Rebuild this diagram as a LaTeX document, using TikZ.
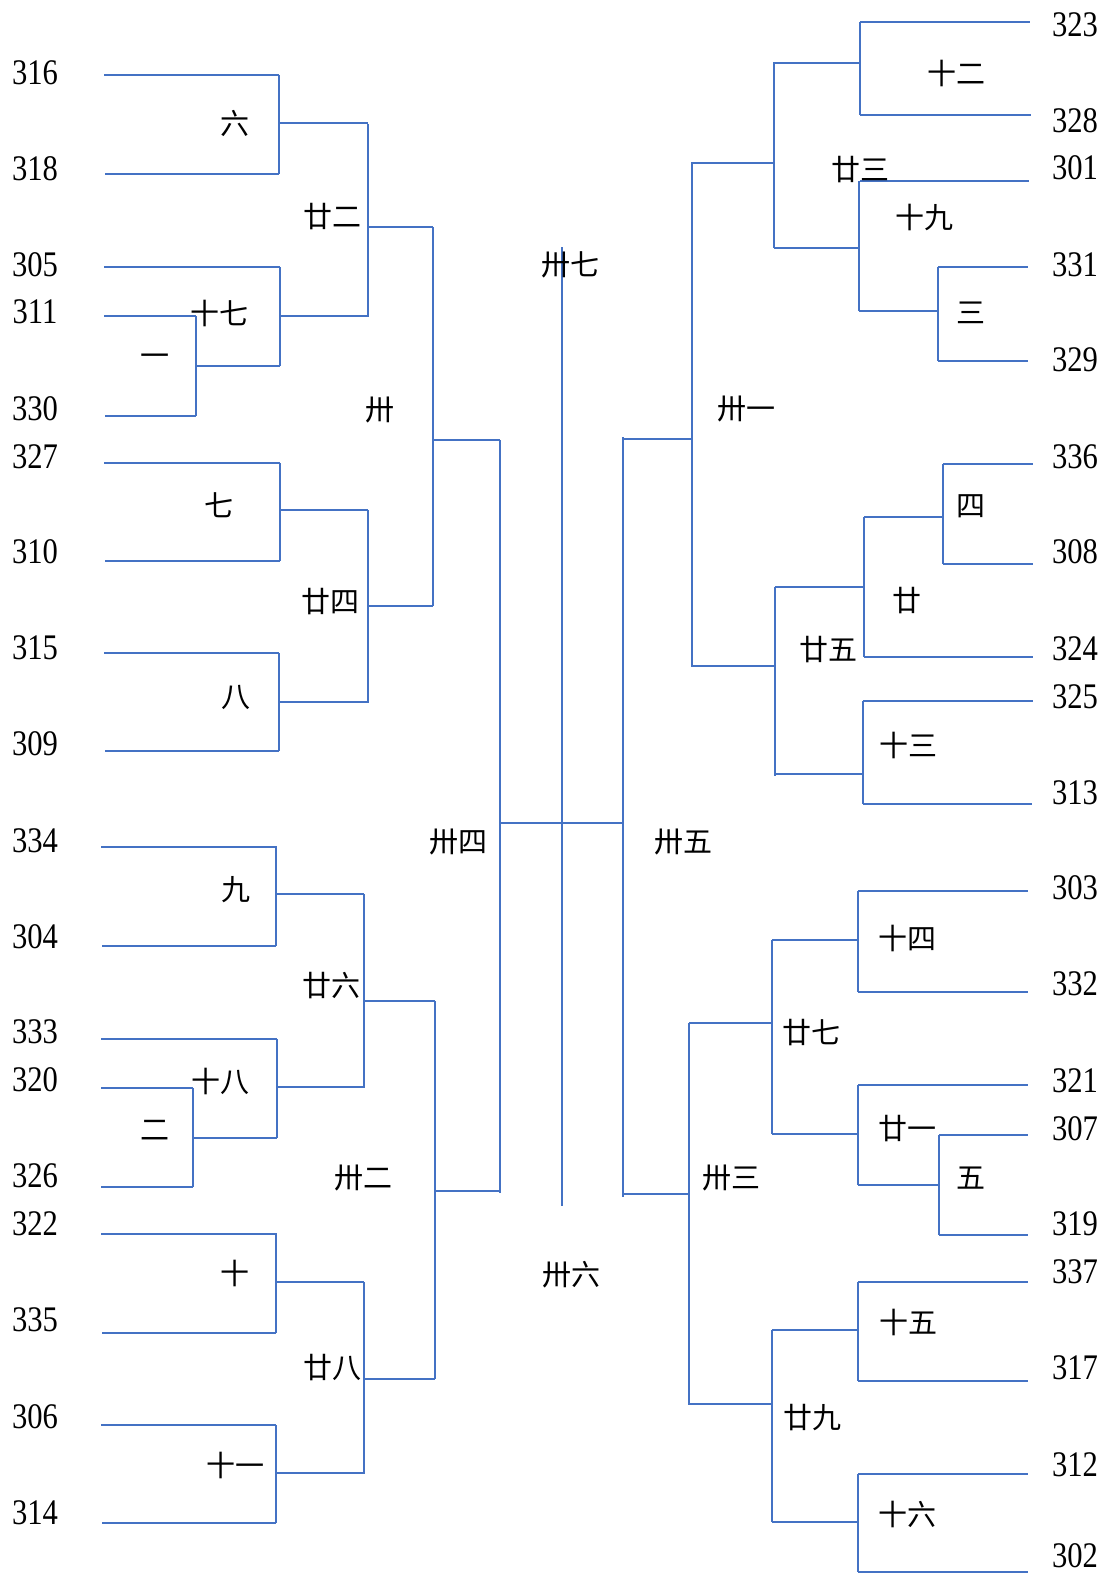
\documentclass[tikz,border=0pt]{standalone}
\usepackage{fontspec}
\newfontfamily\cjk{Noto Sans CJK SC}
\newfontfamily\numfont[FakeStretch=0.85]{Liberation Serif}
\usepackage{tikz}
\definecolor{bracketblue}{RGB}{68,114,196}
\tikzset{
  bracketline/.style={draw=bracketblue,line width=0.75pt},
  mainline/.style={draw=bracketblue,line width=1.1pt},
  teamlabel/.style={font=\numfont\fontsize{18}{18}\selectfont,inner sep=0pt},
  roundlabel/.style={font=\cjk\fontsize{14.5}{14.5}\selectfont,inner sep=0pt}
}

\begin{document}
\begin{tikzpicture}[x=0.5pt,y=-0.5pt]
  \useasboundingbox (0,0) rectangle (1107,1575);

  % left half: team lines
  \foreach \a/\b/\y in {104/279/75,105/279/174,104/280/267,104/196/316,105/196/416,
                        104/280/463,105/280/561,104/279/653,105/279/751,
                        101/277/847,102/276/946,101/277/1039,101/193/1088,101/193/1187,
                        101/277/1234,102/276/1333,101/276/1425,102/276/1523}
    \draw[bracketline] (\a,\y) -- (\b,\y);
  % left half: verticals
  \foreach \x/\p/\q in {279/75/174,196/316/416,280/267/366,368/124/317,
                        280/463/561,279/653/751,368/510/703,
                        276/847/946,193/1088/1187,277/1039/1138,364/894/1088,
                        276/1234/1333,276/1425/1523,364/1282/1474}
    \draw[bracketline] (\x,\p) -- (\x,\q);
  \foreach \x/\p/\q in {433/227/606,500/440/1193,435/1001/1379}
    \draw[mainline] (\x,\p) -- (\x,\q);
  % left half: winners
  \foreach \a/\b/\y in {279/368/123,196/280/366,280/368/316,368/433/227,
                        280/368/510,279/368/702,368/433/606,433/500/440,
                        276/364/894,193/277/1138,277/364/1087,364/435/1001,
                        276/364/1282,276/364/1473,364/435/1379,435/500/1191,
                        500/623/823}
    \draw[bracketline] (\a,\y) -- (\b,\y);

  % centre
  \draw[mainline] (562,247) -- (562,1206);

  % right half: team lines
  \foreach \a/\b/\y in {860/1030/22,860/1031/115,860/1029/181,938/1028/267,938/1028/361,
                        943/1033/464,943/1033/564,864/1033/657,863/1033/701,863/1032/804,
                        858/1028/891,858/1028/992,858/1028/1085,939/1028/1135,939/1028/1235,
                        858/1028/1282,858/1028/1381,858/1028/1474,858/1028/1572}
    \draw[bracketline] (\a,\y) -- (\b,\y);
  % right half: verticals
  \foreach \x/\p/\q in {860/22/115,938/267/361,859/181/311,774/62/248,
                        943/464/564,864/517/657,863/701/804,775/587/776,
                        858/891/992,939/1135/1235,858/1085/1185,772/940/1134,
                        858/1282/1381,858/1474/1572,772/1330/1522}
    \draw[bracketline] (\x,\p) -- (\x,\q);
  \foreach \x/\p/\q in {692/162/667,623/437/1197,689/1023/1405}
    \draw[mainline] (\x,\p) -- (\x,\q);
  % right half: winners
  \foreach \a/\b/\y in {774/860/63,859/938/311,774/859/248,692/774/163,
                        864/943/517,775/864/587,775/863/774,692/775/666,623/692/439,
                        772/858/940,858/939/1185,772/858/1134,689/772/1023,
                        772/858/1330,772/858/1522,689/772/1404,623/689/1194}
    \draw[bracketline] (\a,\y) -- (\b,\y);

  % teams
  \foreach \n/\y in {316/73,318/169,305/265,311/312,330/409,327/457,310/552,315/648,309/744,
                     334/841,304/937,333/1032,320/1080,326/1176,322/1224,335/1320,306/1417,314/1513}
    \node[teamlabel] (t\n) at (35,\y) {\n};
  \foreach \n/\y in {323/25,328/121,301/168,331/265,329/360,336/457,308/552,324/649,325/697,313/793,
                     303/888,332/984,321/1081,307/1129,319/1224,337/1272,317/1368,312/1465,302/1556}
    \node[teamlabel] (t\n) at (1075,\y) {\n};

  % match numbers
  \foreach \x/\y/\m in {235/123/六,332/217/廿二,219/313/十七,155/360/一,380/410/卅,
                        219/505/七,330/602/廿四,236/697/八,
                        236/890/九,331/986/廿六,220/1081/十八,155/1130/二,363/1178/卅二,
                        235/1273/十,332/1368/廿八,235/1465/十一,
                        570/265/卅七,458/842/卅四,683/842/卅五,571/1275/卅六,
                        956/73/十二,860/170/廿三,924/217/十九,971/313/三,746/409/卅一,
                        971/506/四,907/601/廿,828/650/廿五,908/745/十三,
                        907/938/十四,811/1033/廿七,907/1129/廿一,971/1178/五,731/1178/卅三,
                        908/1322/十五,812/1418/廿九,907/1514/十六}
    \node[roundlabel] (m\x\y) at (\x,\y) {\m};
\end{tikzpicture}
\end{document}
